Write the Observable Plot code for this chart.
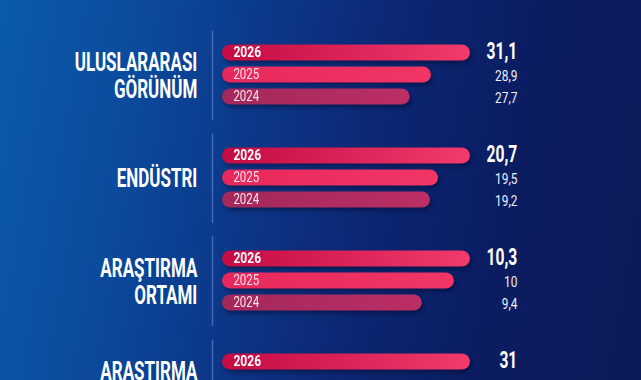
<!DOCTYPE html>
<html>
<head>
<meta charset="utf-8">
<script src="https://cdn.jsdelivr.net/npm/d3@7"></script>
<script src="https://cdn.jsdelivr.net/npm/@observablehq/plot@0.6"></script>
<style>
  html, body { margin: 0; padding: 0; }
  html { background: linear-gradient(100deg, #0b5aab 0%, #0b4d9f 18%, #0c3889 38%, #0c2672 58%, #0b1c60 78%, #0c1a5a 100%); }
  body { width: 641px; height: 380px; overflow: hidden; }
  #chart { width: 641px; height: 380px; overflow: hidden; }
</style>
</head>
<body>
<div id="chart"></div>
<script>
// ---- data ----
const groupLabels = ["ULUSLARARASI\nGÖRÜNÜM", "ENDÜSTRI", "ARAŞTIRMA\nORTAMI", "ARAŞTIRMA\n\u00a0"];
const years = ["2026", "2025", "2024"];
const values2026 = [31.1, 20.7, 10.3, 31];
const values2025 = [28.9, 19.5, 10];
const values2024 = [27.7, 19.2, 9.4];

const seriesByYear = {"2026": values2026, "2025": values2025, "2024": values2024};
const rows = [];
groupLabels.forEach((label, i) => {
  years.forEach(year => {
    const v = seriesByYear[year][i];
    if (v !== undefined) rows.push({group: i, label, year, value: v, ratio: v / values2026[i]});
  });
});
const fmt = v => String(v).replace(".", ",");
const base = 0.55;

const chart = Plot.plot({
  width: 641,
  height: 425,
  marginTop: 40.5,
  marginBottom: 6.5,
  marginLeft: 222,
  marginRight: 171,
  style: {background: "transparent", fontFamily: "Roboto"},
  facet: {data: rows, y: "group"},
  fy: {axis: null, paddingInner: 0.337, paddingOuter: 0},
  y: {axis: null, domain: years, paddingInner: 0.26, paddingOuter: 0.13},
  x: {axis: null, domain: [base, 1]},
  color: {type: "identity"},
  marks: [
    Plot.ruleX([base], {dx: -10, stroke: "#5479c8", strokeOpacity: 0.75, strokeWidth: 1.5, insetTop: -10.5, insetBottom: -11}),
    Plot.barX(rows, {x1: base, x2: "ratio", y: "year", fill: d => `url(#grad${d.year})`, rx: 8.5, ry: 8.5, ariaDescription: "bars"}),
    Plot.text(rows, {filter: d => d.year === "2026", x: base, dx: 11, y: "year", text: "year", textAnchor: "start", fill: "white", fontSize: 14, fontWeight: 700, ariaDescription: "yearbold"}),
    Plot.text(rows, {filter: d => d.year !== "2026", x: base, dx: 11, y: "year", text: "year", textAnchor: "start", fill: "#ffe2ec", fontSize: 14, fontWeight: 400, ariaDescription: "yearreg"}),
    Plot.text(rows, {filter: d => d.year === "2026", x: 1, dx: 47, y: "year", dy: -1, text: d => fmt(d.value), textAnchor: "end", fill: "white", fontSize: 23, fontWeight: 700, ariaDescription: "valbold"}),
    Plot.text(rows, {filter: d => d.year !== "2026", x: 1, dx: 47, y: "year", dy: 1, text: d => fmt(d.value), textAnchor: "end", fill: "#eef1fa", fontSize: 14.5, fontWeight: 400, ariaDescription: "valreg"}),
    Plot.text(rows, {filter: d => d.year === "2026", x: base, dx: -25, text: "label", textAnchor: "end", lineHeight: 1.08, fill: "white", fontSize: 25, fontWeight: 700, ariaDescription: "labels"})
  ]
});

// gradients for bars
const ns = "http://www.w3.org/2000/svg";
const defs = document.createElementNS(ns, "defs");
const grads = {"2026": ["#c50c43", "#f23a6c"], "2025": ["#e8285c", "#f13666"], "2024": ["#a3285b", "#bb2f65"]};
Object.entries(grads).forEach(([k, [c0, c1]]) => {
  const lg = document.createElementNS(ns, "linearGradient");
  lg.setAttribute("id", "grad" + k);
  lg.setAttribute("x1", "0"); lg.setAttribute("x2", "1"); lg.setAttribute("y1", "0"); lg.setAttribute("y2", "0");
  [[0, c0], [1, c1]].forEach(([o, c]) => {
    const s = document.createElementNS(ns, "stop");
    s.setAttribute("offset", o); s.setAttribute("stop-color", c);
    lg.appendChild(s);
  });
  defs.appendChild(lg);
});
chart.insertBefore(defs, chart.firstChild);

const xs = chart.scale("x");
function condense(desc, ox, s) {
  chart.querySelectorAll(`g[aria-description="${desc}"]`).forEach(g => {
    const t = g.getAttribute("transform") || "";
    g.setAttribute("transform", `translate(${ox},0) scale(${s},1) translate(${-ox},0) ${t}`);
  });
}
const x0 = xs.apply(base), x1 = xs.apply(1);
condense("yearbold", x0 + 11, 0.86);
condense("yearreg", x0 + 11, 0.82);
condense("valbold", x1 + 47, 0.68);
condense("valreg", x1 + 47, 0.82);
condense("labels", x0 - 25, 0.68);
chart.querySelectorAll('g[aria-description="bars"]').forEach(g => {
  g.style.filter = "drop-shadow(2px 3px 2px rgba(0,6,40,0.45))";
});

document.getElementById("chart").appendChild(chart);
</script>
</body>
</html>
